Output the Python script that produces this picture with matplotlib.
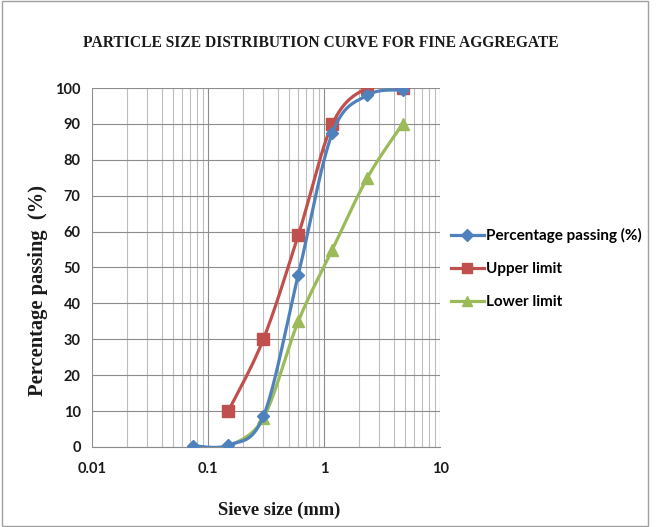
import numpy as np
import matplotlib
matplotlib.use("Agg")
import matplotlib.pyplot as plt
from matplotlib.patches import Rectangle
from matplotlib.lines import Line2D

# Data
sieve_passing = [0.075, 0.15, 0.3, 0.6, 1.18, 2.36, 4.75]
pct_passing = [0.3, 0.5, 8.5, 48, 87.5, 98, 99.5]
sieve_limits = [0.15, 0.3, 0.6, 1.18, 2.36, 4.75]
upper_limit = [10, 30, 59, 90, 100, 100]
lower_limit = [0, 8, 35, 55, 75, 90]
series_names = ["Percentage passing (%)", "Upper limit", "Lower limit"]
y_ticks = list(range(0, 101, 10))
x_tick_labels = ["0.01", "0.1", "1", "10"]

colors = ["#4F81BD", "#C0504D", "#9BBB59"]
markers = ["D", "s", "^"]


def smooth(xs, ys, n=40):
    # Excel-like smoothed line (Catmull-Rom Bezier) in log-x space
    lx = np.log10(np.asarray(xs, float))
    yy = np.asarray(ys, float)
    P = np.column_stack([lx, yy])
    m = len(P)
    out = []
    t = np.linspace(0, 1, n)
    for i in range(m - 1):
        p0 = P[i - 1] if i > 0 else P[i]
        p1 = P[i]
        p2 = P[i + 1]
        p3 = P[i + 2] if i + 2 < m else P[i + 1]
        c1 = p1 + (p2 - p0) / 6.0
        c2 = p2 - (p3 - p1) / 6.0
        seg = ((1 - t) ** 3)[:, None] * p1 + (3 * (1 - t) ** 2 * t)[:, None] * c1 \
            + (3 * (1 - t) * t ** 2)[:, None] * c2 + (t ** 3)[:, None] * p2
        out.append(seg)
    S = np.vstack(out)
    return 10 ** S[:, 0], S[:, 1]


fig = plt.figure(figsize=(6.56, 5.27), dpi=100)
fig.patches.append(Rectangle((0.003, 0.002), 0.985, 0.996, transform=fig.transFigure,
                             fill=False, edgecolor="#A0A0A0", linewidth=1.0))
ax = fig.add_axes([0.140, 0.152, 0.531, 0.681])

ax.set_xscale("log")
ax.set_xlim(0.01, 10)
ax.set_ylim(0, 100)

ax.grid(True, which="major", axis="both", color="#8C8C8C", linewidth=0.8)
ax.grid(True, which="minor", axis="x", color="#BEBEBE", linewidth=0.8)
ax.set_axisbelow(True)

series = [(sieve_passing, pct_passing), (sieve_limits, upper_limit), (sieve_limits, lower_limit)]
order = [1, 2, 0]
for k in order:
    xs, ys = series[k]
    sx, sy = smooth(xs, ys)
    ax.plot(sx, sy, color=colors[k], linewidth=2.3, zorder=3 + (k == 0))
    ax.plot(xs, ys, linestyle="none", marker=markers[k], color=colors[k],
            markersize=8 if k != 0 else 6.5, zorder=4 + (k == 0))

for s in ["top", "right", "left"]:
    ax.spines[s].set_visible(False)
ax.spines["bottom"].set_color("#8C8C8C")

ax.set_xticks([0.01, 0.1, 1, 10])
ax.set_xticklabels(x_tick_labels)
ax.set_yticks(y_ticks)
ax.tick_params(axis="both", which="both", length=0, pad=8)
ax.tick_params(axis="x", pad=11)
for lab in ax.get_xticklabels() + ax.get_yticklabels():
    lab.set_fontfamily("Lato")
    lab.set_fontweight("bold")
    lab.set_fontsize(10.5)
    lab.set_color("#1a1a1a")

fig.text(0.489, 0.918, "PARTICLE SIZE DISTRIBUTION CURVE FOR FINE AGGREGATE",
         ha="center", va="center", fontsize=11.2, fontweight="bold",
         family="Liberation Serif", color="#1a1a1a")
fig.text(0.425, 0.032, "Sieve size (mm)", ha="center", va="center",
         fontsize=13.3, fontweight="bold", family="Liberation Serif", color="#1a1a1a")
fig.text(0.058, 0.449, "Percentage passing  (%)", rotation=90, ha="center", va="center",
         fontsize=14.8, fontweight="bold", family="Liberation Serif", color="#1a1a1a")

handles = [Line2D([0], [0], color=colors[k], linewidth=2.3, marker=markers[k],
                  markersize=6.5 if k == 0 else 7.5) for k in range(3)]
leg = fig.legend(handles, series_names, loc="center left", bbox_to_anchor=(0.666, 0.49),
                 frameon=False, handlelength=2.2, handletextpad=0.1, labelspacing=1.25,
                 prop={"family": "Lato", "weight": "bold", "size": 11})

fig.savefig("out.png", dpi=100)
